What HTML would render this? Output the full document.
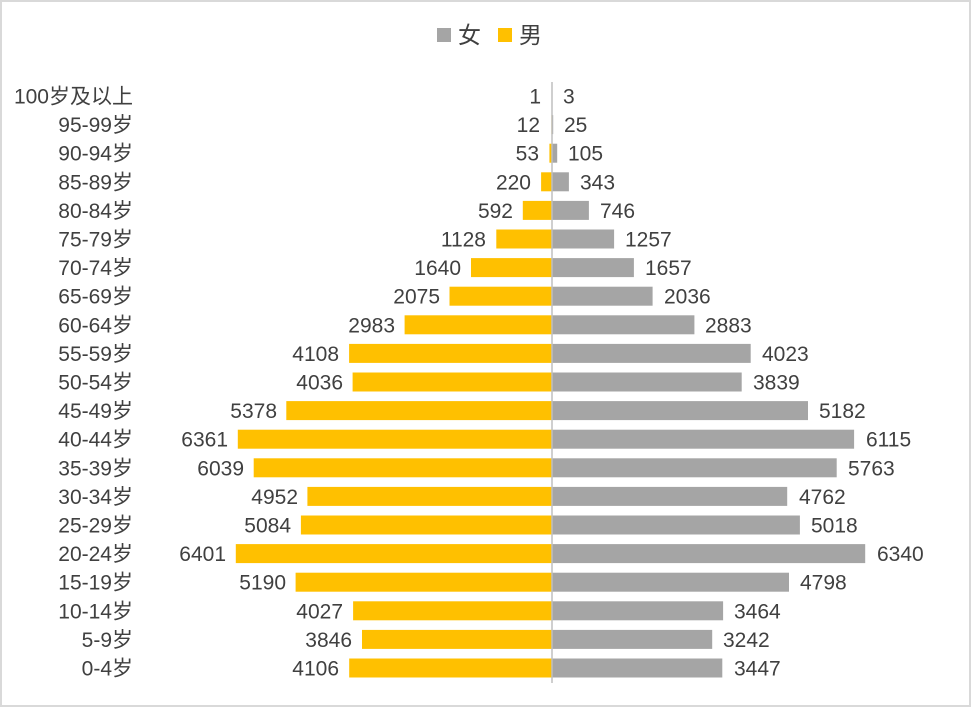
<!DOCTYPE html>
<html><head><meta charset="utf-8"><style>
html,body{margin:0;padding:0;background:#fff}
svg{display:block}
text{font-family:"Liberation Sans","Noto Sans CJK SC",sans-serif;font-size:21px;fill:#404040;dominant-baseline:central}
.m{fill:#FFC000}.f{fill:#A5A5A5}
</style></head><body>
<svg width="971" height="707" viewBox="0 0 971 707">
<rect x="1" y="1" width="969" height="705" fill="#fff" stroke="#d9d9d9" stroke-width="2"/>
<rect x="437" y="28" width="14" height="14" class="f"/><text x="458" y="35" style="font-size:23px">女</text>
<rect x="498" y="28" width="14" height="14" class="m"/><text x="519" y="35" style="font-size:23px">男</text>
<g text-anchor="end" transform="translate(0,1)">
<text x="133" y="96">100岁及以上</text><text x="133" y="124.6">95-99岁</text><text x="133" y="153.2">90-94岁</text><text x="133" y="181.8">85-89岁</text><text x="133" y="210.4">80-84岁</text><text x="133" y="239">75-79岁</text><text x="133" y="267.6">70-74岁</text><text x="133" y="296.2">65-69岁</text><text x="133" y="324.8">60-64岁</text><text x="133" y="353.4">55-59岁</text><text x="133" y="382">50-54岁</text><text x="133" y="410.6">45-49岁</text><text x="133" y="439.2">40-44岁</text><text x="133" y="467.8">35-39岁</text><text x="133" y="496.4">30-34岁</text><text x="133" y="525">25-29岁</text><text x="133" y="553.6">20-24岁</text><text x="133" y="582.2">15-19岁</text><text x="133" y="610.8">10-14岁</text><text x="133" y="639.4">5-9岁</text><text x="133" y="668">0-4岁</text>
</g>
<g class="m">
<rect x="551.95" y="86.5" width="0.05" height="19"/>
<rect x="551.4" y="115.1" width="0.6" height="19"/>
<rect x="549.4" y="143.7" width="2.6" height="19"/>
<rect x="541.1" y="172.3" width="10.9" height="19"/>
<rect x="522.8" y="200.9" width="29.2" height="19"/>
<rect x="496.3" y="229.5" width="55.7" height="19"/>
<rect x="471" y="258.1" width="81" height="19"/>
<rect x="449.5" y="286.7" width="102.5" height="19"/>
<rect x="404.6" y="315.3" width="147.4" height="19"/>
<rect x="349.1" y="343.9" width="202.9" height="19"/>
<rect x="352.6" y="372.5" width="199.4" height="19"/>
<rect x="286.3" y="401.1" width="265.7" height="19"/>
<rect x="237.8" y="429.7" width="314.2" height="19"/>
<rect x="253.7" y="458.3" width="298.3" height="19"/>
<rect x="307.4" y="486.9" width="244.6" height="19"/>
<rect x="300.9" y="515.5" width="251.1" height="19"/>
<rect x="235.8" y="544.1" width="316.2" height="19"/>
<rect x="295.6" y="572.7" width="256.4" height="19"/>
<rect x="353.1" y="601.3" width="198.9" height="19"/>
<rect x="362" y="629.9" width="190" height="19"/>
<rect x="349.2" y="658.5" width="202.8" height="19"/>
</g>
<g class="f">
<rect x="552" y="86.5" width="0.15" height="19"/>
<rect x="552" y="115.1" width="1.2" height="19"/>
<rect x="552" y="143.7" width="5.2" height="19"/>
<rect x="552" y="172.3" width="16.9" height="19"/>
<rect x="552" y="200.9" width="36.9" height="19"/>
<rect x="552" y="229.5" width="62.1" height="19"/>
<rect x="552" y="258.1" width="81.9" height="19"/>
<rect x="552" y="286.7" width="100.6" height="19"/>
<rect x="552" y="315.3" width="142.4" height="19"/>
<rect x="552" y="343.9" width="198.7" height="19"/>
<rect x="552" y="372.5" width="189.7" height="19"/>
<rect x="552" y="401.1" width="256" height="19"/>
<rect x="552" y="429.7" width="302.1" height="19"/>
<rect x="552" y="458.3" width="284.7" height="19"/>
<rect x="552" y="486.9" width="235.2" height="19"/>
<rect x="552" y="515.5" width="247.9" height="19"/>
<rect x="552" y="544.1" width="313.2" height="19"/>
<rect x="552" y="572.7" width="237" height="19"/>
<rect x="552" y="601.3" width="171.1" height="19"/>
<rect x="552" y="629.9" width="160.2" height="19"/>
<rect x="552" y="658.5" width="170.3" height="19"/>
</g>
<line x1="552" y1="82" x2="552" y2="683" stroke="#bfbfbf" stroke-width="1.5"/>
<g text-anchor="end" transform="translate(0,1)">
<text x="541" y="96">1</text><text x="540" y="124.6">12</text><text x="539" y="153.2">53</text><text x="531" y="181.8">220</text><text x="513" y="210.4">592</text><text x="486" y="239">1128</text><text x="461" y="267.6">1640</text><text x="440" y="296.2">2075</text><text x="395" y="324.8">2983</text><text x="339" y="353.4">4108</text><text x="343" y="382">4036</text><text x="277" y="410.6">5378</text><text x="228" y="439.2">6361</text><text x="244" y="467.8">6039</text><text x="298" y="496.4">4952</text><text x="291" y="525">5084</text><text x="226" y="553.6">6401</text><text x="286" y="582.2">5190</text><text x="343" y="610.8">4027</text><text x="352" y="639.4">3846</text><text x="339" y="668">4106</text>
</g>
<g transform="translate(0,1)">
<text x="563" y="96">3</text><text x="564" y="124.6">25</text><text x="568" y="153.2">105</text><text x="580" y="181.8">343</text><text x="600" y="210.4">746</text><text x="625" y="239">1257</text><text x="645" y="267.6">1657</text><text x="664" y="296.2">2036</text><text x="705" y="324.8">2883</text><text x="762" y="353.4">4023</text><text x="753" y="382">3839</text><text x="819" y="410.6">5182</text><text x="866" y="439.2">6115</text><text x="848" y="467.8">5763</text><text x="799" y="496.4">4762</text><text x="811" y="525">5018</text><text x="877" y="553.6">6340</text><text x="800" y="582.2">4798</text><text x="734" y="610.8">3464</text><text x="723" y="639.4">3242</text><text x="734" y="668">3447</text>
</g>
</svg>
</body></html>
